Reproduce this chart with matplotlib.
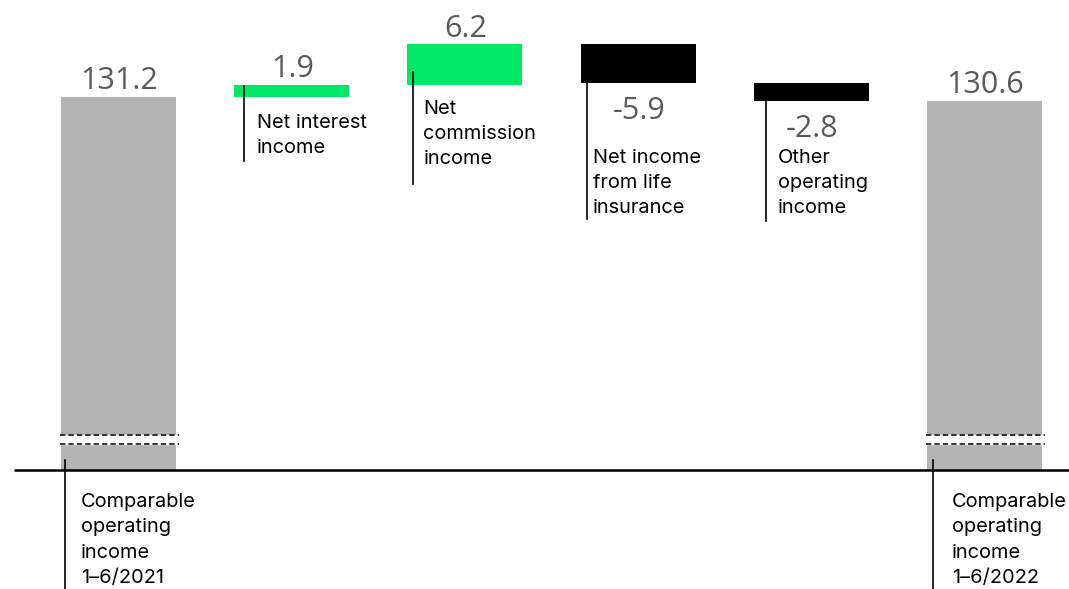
import matplotlib.pyplot as plt
import numpy as np

# ---------------------------------------------------------------------------
# Data (EUR million)
# ---------------------------------------------------------------------------

categories = [
    "Comparable\noperating\nincome\n1–6/2021",
    "Net interest\nincome",
    "Net\ncommission\nincome",
    "Net income\nfrom life\ninsurance",
    "Other\noperating\nincome",
    "Comparable\noperating\nincome\n1–6/2022",
]
start_total = 131.2
changes = [1.9, 6.2, -5.9, -2.8]
end_total = 130.6
value_labels = ["131.2", "1.9", "6.2", "-5.9", "-2.8", "130.6"]

# ---------------------------------------------------------------------------
# Layout
# ---------------------------------------------------------------------------

W, H, DPI = 1069, 589, 100
PX = 6.5            # pixels per EUR million
SPACING = 173.2     # pixels between bar centres
BASE = 73.8         # value where the (broken) axis sits
BAR_W = 0.664

GREEN = "#00e865"
GREY = "#b3b3b3"
VALUE_GREY = "#5a5a5a"

# leader line: x offset from bar left (px), start above low end (px), length below low end (px)
lead_dx = [4, 10, 6, 6, 12, 6]
lead_up = [0, 11, 13, 0, 0, 0]
lead_down = [0, 64, 99, 136, 120, 0]
# label gap right of leader line (px), first text line baseline below bar low end (px)
text_dx = [16, 13, 10, 6, 12, 19]
text_drop = [38, 32, 30, 81, 63, 38]


def dy(px):
    return px / PX


def dx(px):
    return px / SPACING


fig = plt.figure(figsize=(W / DPI, H / DPI), dpi=DPI)
ax = fig.add_axes([0, 0, 1, 1])
ax.set_xlim(-118.5 / SPACING, 5 + (W - 984.5) / SPACING)
ax.set_ylim(BASE - dy(H - 470), BASE + dy(470))
ax.axis("off")

x = np.arange(len(categories))
running = start_total + np.cumsum([0] + changes)
lows = [BASE] + [min(running[i], running[i + 1]) for i in range(len(changes))] + [BASE]
highs = [start_total] + [max(running[i], running[i + 1]) for i in range(len(changes))] + [end_total]
colors = [GREY] + [GREEN if c > 0 else "black" for c in changes] + [GREY]

ax.bar(x, np.array(highs) - np.array(lows), bottom=lows, width=BAR_W,
       color=colors, zorder=2)

# axis break on the total bars
for i in (0, len(x) - 1):
    x0 = x[i] - BAR_W / 2 - dx(1)
    x1 = x[i] + BAR_W / 2 + dx(3)
    ax.fill_between([x0, x1], BASE + dy(26), BASE + dy(35), color="white", zorder=3)
    for off in (26, 35):
        ax.plot([x0, x1], [BASE + dy(off)] * 2, color="black", lw=1.1,
                dashes=(3.5, 2), zorder=4)

# baseline
ax.plot([ax.get_xlim()[0] + dx(14), ax.get_xlim()[1]], [BASE, BASE],
        color="black", lw=1.8, zorder=5, solid_capstyle="butt")

# value labels
for i, (xi, lab) in enumerate(zip(x, value_labels)):
    negative = lab.startswith("-")
    if negative:
        ypos = lows[i] - dy(36.5)
    else:
        ypos = highs[i] + dy(7.5)
    ax.text(xi + dx(1), ypos, lab, ha="center", va="baseline", fontsize=22,
            family="Open Sans", color=VALUE_GREY, zorder=6)

# leader lines and category labels
for i, (xi, lab) in enumerate(zip(x, categories)):
    lx = xi - BAR_W / 2 + dx(lead_dx[i])
    if i in (0, len(x) - 1):
        y_top = BASE + dy(10)
        y_bot = ax.get_ylim()[0]
        first_base = BASE - dy(text_drop[i])
    else:
        y_top = lows[i] + dy(lead_up[i])
        y_bot = lows[i] - dy(lead_down[i])
        first_base = lows[i] - dy(text_drop[i])
    ax.plot([lx, lx], [y_top, y_bot], color="black", lw=1.2, zorder=6)
    ax.text(lx + dx(text_dx[i]), first_base + dy(15), lab, ha="left", va="top",
            fontsize=14.4, family="Inter", linespacing=1.52, zorder=6)

fig.savefig("out.png", dpi=DPI)
